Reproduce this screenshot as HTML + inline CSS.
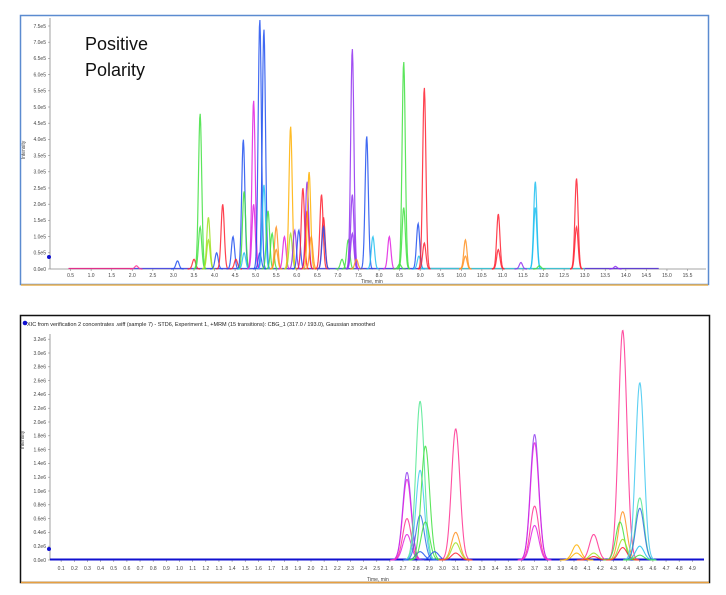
<!DOCTYPE html>
<html><head><meta charset="utf-8"><style>
body{margin:0;background:#fff;width:726px;height:595px;overflow:hidden;font-family:"Liberation Sans",sans-serif}
svg{position:absolute;left:0;top:0}
</style></head><body>
<svg id="s" width="726" height="595" xmlns="http://www.w3.org/2000/svg">
<rect x="20.5" y="15.5" width="688" height="269" fill="#fff" stroke="#5b8bd0" stroke-width="1.5"/>
<line x1="21" y1="285" x2="708" y2="285" stroke="#e8b050" stroke-width="1.5"/>
<rect x="20.5" y="315.5" width="689" height="267" fill="#fff" stroke="#111" stroke-width="1.5"/>
<line x1="21" y1="582.5" x2="709" y2="582.5" stroke="#e8a040" stroke-width="1.5"/>
<text x="85" y="50" font-size="18" fill="#111">Positive</text>
<text x="85" y="76" font-size="18" fill="#111">Polarity</text>
<g id="g1"></g><g id="g2"></g>
<text x="27" y="326" font-size="5.5" fill="#222">XIC from verification 2 concentrates .wiff (sample 7) - STD6, Experiment 1, +MRM (15 transitions): CBG_1 (317.0 / 193.0), Gaussian smoothed</text>
<circle cx="25" cy="323" r="2.3" fill="#1010d0"/>
<text x="361" y="283" font-size="5" fill="#444">Time, min</text>
<text x="367" y="581" font-size="5" fill="#444">Time, min</text>
<text transform="translate(25,150) rotate(-90)" font-size="5" fill="#444" text-anchor="middle">Intensity</text>
<text transform="translate(24,440) rotate(-90)" font-size="5" fill="#444" text-anchor="middle">Intensity</text>
</svg>
<script>
(function(){
var NS="http://www.w3.org/2000/svg";
function el(p,t,a,txt){var e=document.createElementNS(NS,t);for(var k in a)e.setAttribute(k,a[k]);if(txt)e.textContent=txt;p.appendChild(e);return e;}
var g1=document.getElementById('g1'),g2=document.getElementById('g2');
var X1=function(t){return 50+t*41.13},Y1=function(v){return 269-v*32.4};
el(g1,'line',{x1:50,y1:18,x2:50,y2:269,stroke:'#888','stroke-width':0.8});
el(g1,'line',{x1:50,y1:269,x2:706,y2:269,stroke:'#888','stroke-width':0.8});
for(var i=0;i<=15;i++){var v=i*0.5,y=Y1(v);el(g1,'line',{x1:48,y1:y,x2:50,y2:y,stroke:'#888','stroke-width':0.6});el(g1,'text',{x:46,y:y+1.8,'font-size':5,fill:'#444','text-anchor':'end'},v.toFixed(1)+'e'+(i==0?'0':'5'));}
for(var i=1;i<=31;i++){var t=i*0.5,x=X1(t);el(g1,'line',{x1:x,y1:269,x2:x,y2:271,stroke:'#888','stroke-width':0.6});el(g1,'text',{x:x,y:277,'font-size':5,fill:'#444','text-anchor':'middle'},t.toFixed(1));}
el(g1,'circle',{cx:49,cy:257,r:2,fill:'#1010d0'});
var X2=function(t){return 48+t*131.5},Y2=function(v){return 560-v*69};
el(g2,'line',{x1:50,y1:334,x2:50,y2:560,stroke:'#888','stroke-width':0.8});
for(var i=0;i<=16;i++){var v=i*0.2,y=Y2(v);el(g2,'line',{x1:48,y1:y,x2:50,y2:y,stroke:'#888','stroke-width':0.6});el(g2,'text',{x:46,y:y+1.8,'font-size':5,fill:'#444','text-anchor':'end'},v.toFixed(1)+'e'+(i==0?'0':'6'));}
for(var i=1;i<=49;i++){var t=i*0.1,x=X2(t);el(g2,'line',{x1:x,y1:560,x2:x,y2:562,stroke:'#888','stroke-width':0.6});el(g2,'text',{x:x,y:570,'font-size':5,fill:'#444','text-anchor':'middle'},t.toFixed(1));}
el(g2,'circle',{cx:49,cy:549,r:2,fill:'#1010d0'});
function peak(g,X,Yf,t,h,c,s,sw){var cx=X(t),d='';for(var dx=-4*s;dx<=4*s;dx+=0.5){var v=h*Math.exp(-dx*dx/(2*s*s));d+=(d?'L':'M')+(cx+dx).toFixed(1)+','+Yf(v).toFixed(1);}el(g,'path',{d:d,fill:'none',stroke:c,'stroke-width':sw||1.1,'stroke-opacity':0.85});}
el(g1,'path',{d:'M'+X1(0.45)+',268.5L'+X1(2)+',268.5',stroke:'#e0308a','stroke-width':1.2});
el(g1,'path',{d:'M'+X1(2)+',268.5L'+X1(10)+',268.5',stroke:'#5050e0','stroke-width':1.2});
el(g1,'path',{d:'M'+X1(9)+',268.5L'+X1(13)+',268.5',stroke:'#40c0d0','stroke-width':1.2});
el(g1,'path',{d:'M'+X1(13)+',268.5L'+X1(14.8)+',268.5',stroke:'#6040d0','stroke-width':1.2});
var R='#ff2030',B='#2050f0',G='#40e040',M='#e020e0',O='#ff9020',P='#9030f0',C='#20c0f0',YG='#a0e020',YY='#ffb000',PK='#ff3090';
var tops=[[2.1,.1,PK],[3.1,.25,B],[3.5,.3,R],[3.65,4.8,G],[3.65,1.3,G],[3.85,1.6,YG],[3.85,.9,YG],[4.05,.5,B],[4.2,2,R],[4.45,1,B],[4.52,.3,R],[4.7,4,B],[4.72,2.4,G],[4.72,.5,C],[4.95,5.2,M],[4.95,2,M],[5.1,7.7,B],[5.1,.5,B],[5.2,7.4,B],[5.2,2.6,C],[5.3,1.8,G],[5.4,1.1,G],[5.5,1.3,O],[5.5,.6,O],[5.7,1,M],[5.85,4.4,YY],[5.85,1.1,YG],[5.95,1.2,P],[6.05,1.2,B],[6.15,2.5,R],[6.25,2.7,P],[6.25,1.8,R],[6.3,3,YY],[6.35,1,O],[6.6,2.3,R],[6.65,1.6,R],[6.65,1.3,B],[7.1,.3,G],[7.25,.9,G],[7.35,6.8,P],[7.35,2.3,P],[7.35,1.1,P],[7.45,.3,O],[7.7,4.1,B],[7.85,1,C],[8.25,1,M],[8.5,.15,G],[8.6,6.4,G],[8.6,1.9,G],[8.95,1.4,B],[8.97,.4,C],[9.1,5.6,R],[9.1,.8,R],[10.1,.9,O],[10.1,.4,O],[10.9,1.7,R],[10.9,.6,R],[11.45,.2,P],[11.8,2.7,C],[11.8,1.9,C],[11.9,.1,G],[12.8,2.8,R],[12.8,1.3,R],[13.75,.08,P]];
tops.forEach(function(p){peak(g1,X1,Y1,p[0],p[1],p[2],1.6,1.2);});
el(g2,'path',{d:'M50,559.5L704,559.5',stroke:'#1010d0','stroke-width':2});
var MG='#50e890',LB='#40c8f0',DB='#3070e0',PB='#9040f0';
var bots=[[2.73,1.27,PB],[2.73,1.17,M],[2.73,.6,PK],[2.73,.37,M],[2.83,2.3,MG],[2.83,1.3,LB],[2.83,.65,DB],[2.83,.12,B],[2.87,1.65,G],[2.87,.55,G],[2.94,.12,B],[3.1,1.9,PK],[3.1,.4,O],[3.1,.25,YG],[3.1,.1,R],[3.7,1.82,PB],[3.7,1.7,M],[3.7,.78,PK],[3.7,.5,M],[4.02,.22,YY],[4.02,.1,YY],[4.15,.37,PK],[4.15,.1,YG],[4.15,.05,R],[4.37,3.33,PK],[4.37,.7,O],[4.35,.55,G],[4.37,.3,YG],[4.37,.18,R],[4.5,2.57,LB],[4.5,.9,MG],[4.5,.75,DB],[4.5,.2,C],[4.5,.07,G]];
bots.forEach(function(p){peak(g2,X2,Y2,p[0],p[1],p[2],4.2,1.1);});
})();
</script>
</body></html>
